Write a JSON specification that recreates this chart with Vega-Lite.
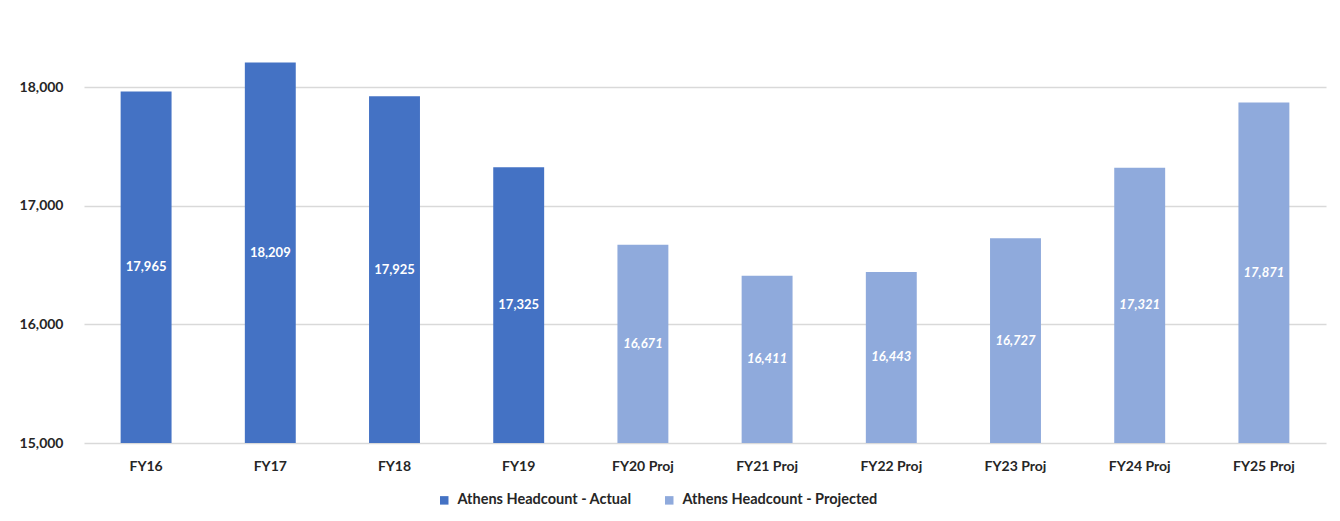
{
  "$schema": "https://vega.github.io/schema/vega-lite/v6.json",
  "width": 1242,
  "height": 415,
  "autosize": {"type": "none"},
  "padding": {"left": 84, "top": 28, "right": 14, "bottom": 78},
  "background": "#ffffff",
  "config": {
    "view": {"stroke": null},
    "font": "Lato",
    "axis": {"labelFont": "Lato", "labelFontWeight": "bold", "labelFontSize": 14, "labelColor": "#262626"}
  },
  "data": {
    "values": [
      {"year": "FY16", "series": "Athens Headcount - Actual", "headcount": 17965},
      {"year": "FY17", "series": "Athens Headcount - Actual", "headcount": 18209},
      {"year": "FY18", "series": "Athens Headcount - Actual", "headcount": 17925},
      {"year": "FY19", "series": "Athens Headcount - Actual", "headcount": 17325},
      {"year": "FY20 Proj", "series": "Athens Headcount - Projected", "headcount": 16671},
      {"year": "FY21 Proj", "series": "Athens Headcount - Projected", "headcount": 16411},
      {"year": "FY22 Proj", "series": "Athens Headcount - Projected", "headcount": 16443},
      {"year": "FY23 Proj", "series": "Athens Headcount - Projected", "headcount": 16727},
      {"year": "FY24 Proj", "series": "Athens Headcount - Projected", "headcount": 17321},
      {"year": "FY25 Proj", "series": "Athens Headcount - Projected", "headcount": 17871}
    ]
  },
  "encoding": {
    "x": {
      "field": "year",
      "type": "ordinal",
      "sort": null,
      "title": null,
      "scale": {"paddingInner": 0.59, "paddingOuter": 0.295},
      "axis": {"domain": false, "ticks": false, "labelAngle": 0, "labelPadding": 16}
    }
  },
  "layer": [
    {
      "mark": {"type": "bar", "clip": true},
      "encoding": {
        "y": {
          "field": "headcount",
          "type": "quantitative",
          "title": null,
          "scale": {"domain": [15000, 18500], "zero": false, "nice": false},
          "axis": {
            "values": [15000, 16000, 17000, 18000],
            "format": ",.0f",
            "domain": false,
            "ticks": false,
            "labelPadding": 21,
            "gridColor": "#D9D9D9",
            "gridWidth": 1.5
          }
        },
        "y2": {"datum": 15000},
        "color": {
          "field": "series",
          "type": "nominal",
          "scale": {
            "domain": ["Athens Headcount - Actual", "Athens Headcount - Projected"],
            "range": ["#4472C4", "#8FAADC"]
          },
          "legend": {
            "title": null,
            "orient": "none",
            "direction": "horizontal",
            "legendX": 353,
            "legendY": 465,
            "symbolType": "square",
            "symbolSize": 72,
            "symbolStrokeWidth": 0,
            "labelFont": "Lato",
            "labelFontWeight": "bold",
            "labelFontSize": 14.5,
            "labelColor": "#262626",
            "labelLimit": 400,
            "labelOffset": 6,
            "columnPadding": 30
          }
        }
      }
    },
    {
      "transform": [{"filter": "datum.series === 'Athens Headcount - Actual'"}],
      "mark": {"type": "text", "color": "#ffffff", "fontWeight": "bold", "fontSize": 13, "baseline": "middle", "align": "center"},
      "encoding": {
        "y": {
          "field": "headcount",
          "type": "quantitative",
          "scale": {"domain": [15000, 22000], "zero": false, "nice": false},
          "axis": null
        },
        "text": {"field": "headcount", "type": "quantitative", "format": ","}
      }
    },
    {
      "transform": [{"filter": "datum.series === 'Athens Headcount - Projected'"}],
      "mark": {"type": "text", "color": "#ffffff", "fontWeight": "bold", "fontStyle": "italic", "fontSize": 13, "baseline": "middle", "align": "center"},
      "encoding": {
        "y": {
          "field": "headcount",
          "type": "quantitative",
          "scale": {"domain": [15000, 22000], "zero": false, "nice": false},
          "axis": null
        },
        "text": {"field": "headcount", "type": "quantitative", "format": ","}
      }
    }
  ],
  "resolve": {"scale": {"y": "independent"}}
}
